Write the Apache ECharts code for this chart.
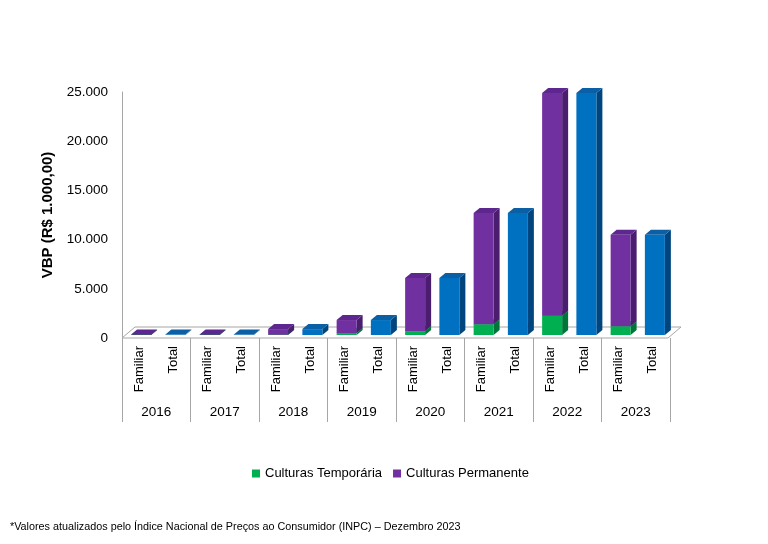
<!DOCTYPE html>
<html>
<head>
<meta charset="utf-8">
<script src="https://cdn.jsdelivr.net/npm/echarts@6/dist/echarts.min.js"></script>
<style>
html,body{margin:0;padding:0;background:#fff;}
#chart{width:768px;height:544px;}
</style>
</head>
<body>
<div id="chart"></div>
<script>
// ---- data (R$ 1.000,00) ----
const years = ['2016','2017','2018','2019','2020','2021','2022','2023'];
const subCategories = ['Familiar','Total'];
const temporaria = [10, 10, 30, 200, 400, 1100, 1950, 900];
const permanente = [40, 40, 570, 1320, 5400, 11300, 22650, 9300];
const totalValues = [50, 50, 600, 1520, 5800, 12400, 24600, 10200];
const yTicks = [0, 5000, 10000, 15000, 20000, 25000];

const FONT = "'Liberation Sans Narrow','Arial Narrow','Liberation Sans',Arial,sans-serif";

const categories = [];
years.forEach(() => subCategories.forEach(s => categories.push(s)));

const greenData = [], purpleData = [], blueData = [];
years.forEach((y, i) => {
  greenData.push([2 * i, 0, temporaria[i]]);
  purpleData.push([2 * i, temporaria[i], temporaria[i] + permanente[i]]);
  blueData.push([2 * i + 1, 0, totalValues[i]]);
});

const DX = 6, DY = 5, BAR_W = 20, SHIFT_X = 2, SHIFT_Y = 3;

function boxRenderer(colors) {
  return function (params, api) {
    const x = api.value(0);
    const p0 = api.coord([x, api.value(1)]);
    const p1 = api.coord([x, api.value(2)]);
    const x0 = p0[0] - BAR_W / 2 + SHIFT_X;
    const x1 = x0 + BAR_W;
    const yb = p0[1] - SHIFT_Y;
    const yt = Math.min(p1[1] - SHIFT_Y, yb);
    return {
      type: 'group',
      children: [
        { type: 'polygon', shape: { points: [[x1, yt], [x1 + DX, yt - DY], [x1 + DX, yb - DY], [x1, yb]] },
          style: { fill: colors.side } },
        { type: 'rect', shape: { x: x0, y: yt, width: BAR_W, height: yb - yt },
          style: { fill: colors.front } },
        { type: 'polygon', shape: { points: [[x0, yt], [x0 + DX, yt - DY], [x1 + DX, yt - DY], [x1, yt]] },
          style: { fill: colors.top } }
      ]
    };
  };
}

const chart = echarts.init(document.getElementById('chart'), null, { renderer: 'canvas' });
chart.setOption({
  animation: false,
  backgroundColor: '#fff',
  textStyle: { fontFamily: FONT },
  grid: { left: 122, right: 98, top: 92, bottom: 206 },
  legend: {
    data: ['Culturas Temporária', 'Culturas Permanente'],
    left: 247, top: 462,
    icon: 'rect', itemWidth: 8, itemHeight: 8, itemGap: 11,
    textStyle: { fontFamily: FONT, fontSize: 13, color: '#000' }
  },
  title: {
    text: '*Valores atualizados pelo Índice Nacional de Preços ao Consumidor (INPC) – Dezembro 2023',
    left: 5, top: 517,
    textStyle: { fontFamily: FONT, fontSize: 10.8, fontWeight: 'normal', color: '#000' }
  },
  xAxis: [
    {
      type: 'category', data: categories, position: 'bottom',
      axisLine: { show: false }, axisTick: { show: false },
      axisLabel: { interval: 0, rotate: 90, margin: 8, fontFamily: FONT, fontSize: 13, color: '#000' }
    },
    {
      type: 'category', data: years, position: 'bottom',
      axisLine: { show: false },
      axisTick: { show: true, length: 84, lineStyle: { color: '#A6A6A6', width: 1 } },
      axisLabel: { margin: 67, fontFamily: FONT, fontSize: 13.5, color: '#000' }
    }
  ],
  yAxis: {
    type: 'value', min: 0, max: 25000, interval: 5000,
    axisLine: { show: true, lineStyle: { color: '#A6A6A6', width: 1 } },
    axisTick: { show: false },
    splitLine: { show: false },
    axisLabel: {
      margin: 14, fontFamily: FONT, fontSize: 13.5, color: '#000',
      formatter: v => String(v).replace(/\B(?=(\d{3})+(?!\d))/g, '.')
    },
    name: 'VBP (R$ 1.000,00)', nameLocation: 'middle', nameRotate: 90, nameGap: 64,
    nameTextStyle: { fontFamily: FONT, fontSize: 15, fontWeight: 'bold', color: '#000' }
  },
  series: [
    {
      type: 'custom', name: 'floor', xAxisIndex: 0, silent: true, z: 1,
      data: [[0]],
      renderItem: function (params, api) {
        const cs = params.coordSys;
        const y0 = api.coord([0, 0])[1];
        const L = cs.x, R = cs.x + cs.width - 2;
        return {
          type: 'polygon',
          shape: { points: [[L, y0], [R, y0], [R + 13, y0 - 11], [L + 13, y0 - 11]] },
          style: { fill: '#fff', stroke: '#A6A6A6', lineWidth: 1 }
        };
      }
    },
    {
      type: 'custom', name: 'Culturas Temporária', xAxisIndex: 0, z: 3,
      itemStyle: { color: '#00B050' },
      encode: { x: 0, y: [1, 2] },
      data: greenData,
      renderItem: boxRenderer({ front: '#00B050', side: '#00753A', top: '#009A45' })
    },
    {
      type: 'custom', name: 'Culturas Permanente', xAxisIndex: 0, z: 3,
      itemStyle: { color: '#7030A0' },
      encode: { x: 0, y: [1, 2] },
      data: purpleData,
      renderItem: boxRenderer({ front: '#7030A0', side: '#4A1D6E', top: '#5E2790' })
    },
    {
      type: 'custom', name: 'Total', xAxisIndex: 0, z: 3,
      itemStyle: { color: '#0070C0' },
      encode: { x: 0, y: [1, 2] },
      data: blueData,
      renderItem: boxRenderer({ front: '#0070C0', side: '#00457D', top: '#0B5FA5' })
    }
  ]
});
</script>
</body>
</html>
